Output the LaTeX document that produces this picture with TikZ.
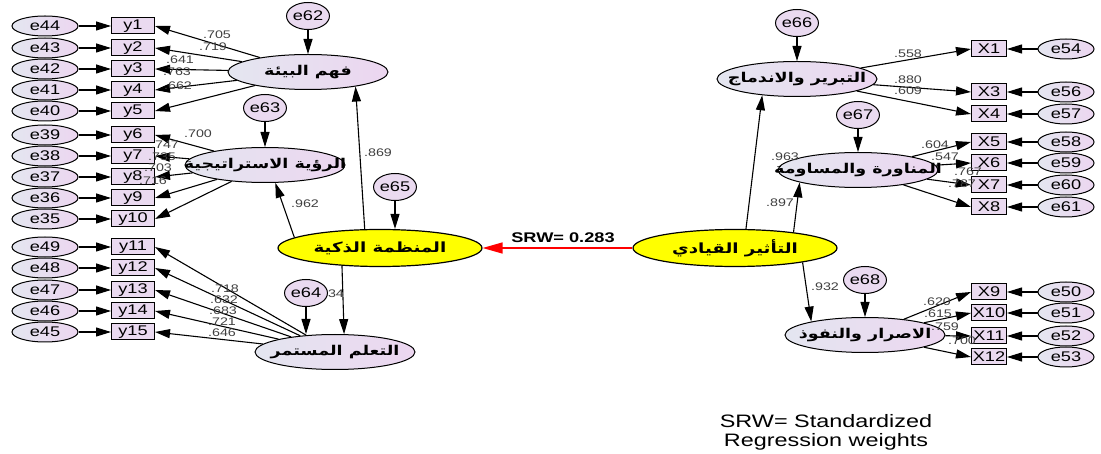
\documentclass[tikz,border=0pt]{standalone}
\usepackage{fontspec}
\setmainfont{Liberation Sans}[FakeStretch=1.3]
\newfontfamily\arabicfont[Script=Arabic,FakeStretch=1.3]{DejaVu Sans}
\TeXXeTstate=1
\usetikzlibrary{shapes.geometric,arrows.meta}
\definecolor{shL}{RGB}{228,230,240}
\definecolor{shR}{RGB}{236,214,240}
\definecolor{boxfill}{RGB}{234,218,240}
\definecolor{ylw}{RGB}{255,255,0}
\newcommand{\artxt}[1]{\makebox[0pt]{\arabicfont\bfseries\beginR #1\endR}}

\begin{document}
\begin{tikzpicture}[x=1pt,y=-1pt,
    err/.style={ellipse,draw,line width=1pt,left color=shL,right color=shR,minimum width=66pt,minimum height=20pt,inner sep=0pt,font=\fontsize{14}{14}\selectfont},
    res/.style={ellipse,draw,line width=1pt,fill=boxfill,minimum width=38pt,minimum height=27pt,inner sep=0pt,font=\fontsize{14}{14}\selectfont},
    ind/.style={rectangle,draw,line width=1pt,fill=boxfill,minimum width=43pt,minimum height=16pt,inner sep=0pt,font=\fontsize{14}{14}\selectfont},
    lat/.style={ellipse,draw,line width=1pt,left color=shL,right color=shR,minimum width=160pt,minimum height=35pt,inner sep=0pt,font=\fontsize{13.5}{13.5}\selectfont},
    yel/.style={ellipse,draw,line width=1.2pt,fill=ylw,minimum width=204pt,minimum height=37pt,inner sep=0pt,font=\fontsize{14}{14}\selectfont},
    lbl/.style={inner sep=0pt,text=black!75,font=\fontsize{11}{11}\selectfont},
    arr/.style={line width=1.1pt,-{Triangle[length=15pt,width=9pt]}},
    redarr/.style={line width=1.3pt,red,-{Triangle[length=20pt,width=11pt]}}]
\path[use as bounding box,fill=white] (0,0) rectangle (1101,454);

% left indicators
\foreach \e/\y/\yy in {44/1/26,43/2/48,42/3/69,41/4/90,40/5/111,39/6/135,38/7/156,37/8/177,36/9/198,35/10/219,49/11/247,48/12/268,47/13/290,46/14/311,45/15/332}{
    \node[err] (e\e) at (45,\yy) {e\e};
    \node[ind] (y\y) at (133,\yy) {y\y};
    \draw[arr] (e\e) -- (y\y);
}
% right indicators
\foreach \e/\x/\yy in {54/1/49,56/3/92,57/4/114,58/5/142,59/6/163,60/7/185,61/8/207,50/9/292,51/10/313,52/11/336,53/12/357}{
    \node[ind,minimum width=35pt] (X\x) at (989,\yy) {X\x};
    \node[err,minimum width=56pt] (e\e) at (1066,\yy) {e\e};
    \draw[arr] (e\e) -- (X\x);
}

% latent variables
\node[lat] (fahm) at (308,72) {\artxt{فهم البيئة}};
\node[lat] (rua) at (265,165) {\artxt{الرؤية الاستراتيجية}};
\node[lat] (taalum) at (335,352) {\artxt{التعلم المستمر}};
\node[yel] (munazama) at (380,248) {\artxt{المنظمة الذكية}};
\node[lat] (tabrir) at (797,79) {\artxt{التبرير والاندماج}};
\node[lat] (manawara) at (858,170) {\artxt{المناورة والمساومة}};
\node[lat] (israr) at (865,335) {\artxt{الاصرار والنفوذ}};
\node[yel] (taathir) at (735,248) {\artxt{التأثير القيادي}};

% loadings
\foreach \y/\l/\lx/\ly in {1/.705/217/35,2/.719/213/47,3/.641/180/60,4/.763/177/72,5/.662/178/86}{
    \draw[arr] (fahm) -- (y\y.east);
    \node[lbl] (l\y) at (\lx,\ly) {\l};
}
\foreach \y/\l/\lx/\ly in {6/.700/198/134,7/.747/165/145,8/.735/162/157,9/.703/158/168,10/.716/153/181}{
    \draw[arr] (rua) -- (y\y.east);
    \node[lbl] (l\y) at (\lx,\ly) {\l};
}
\foreach \y/\l/\lx/\ly in {11/.718/225/289,12/.632/224/300,13/.683/223/311,14/.721/222/322,15/.646/222/333}{
    \draw[arr] (taalum) -- (y\y.east);
    \node[lbl] (l\y) at (\lx,\ly) {\l};
}
\foreach \x/\l/\lx/\ly in {1/.558/908/54,3/.880/908/80,4/.609/908/91}{
    \draw[arr] (tabrir) -- (X\x.west);
    \node[lbl] (m\x) at (\lx,\ly) {\l};
}
\foreach \x/\l/\lx/\ly in {5/.604/935/145,6/.547/945/157,7/.767/968/172,8/.787/962/184}{
    \draw[arr] (manawara) -- (X\x.west);
    \node[lbl] (m\x) at (\lx,\ly) {\l};
}
\foreach \x/\l/\lx/\ly in {9/.620/937/302,10/.615/938/314,11/.759/945/327,12/.700/962/341}{
    \draw[arr] (israr) -- (X\x.west);
    \node[lbl] (m\x) at (\lx,\ly) {\l};
}

% structural paths
\draw[arr] (munazama.129) -- (fahm.-17);
\draw[arr] (munazama.173) -- (rua.-60);
\draw[arr] (munazama.205) -- (taalum.63);
\draw[arr] (taathir.60) -- (tabrir.205);
\draw[arr] (taathir.15) -- (manawara.192);
\draw[arr] (taathir.-12) -- (israr.166);
\draw[redarr] (taathir) -- (munazama);
\node[lbl] (p1) at (378,153) {.869};
\node[lbl] (p2) at (305,204) {.962};
\node[lbl] (p3) at (330,294) {.834};
\node[lbl] (p4) at (785,157) {.963};
\node[lbl] (p5) at (780,203) {.897};
\node[lbl] (p6) at (825,287) {.932};
\node[font=\bfseries\fontsize{14}{14}\selectfont,inner sep=0pt] (srw) at (563,238) {SRW= 0.283};

% residuals
\node[res] (e62) at (308,16) {e62};
\node[res] (e63) at (265,108) {e63};
\node[res] (e64) at (306,293) {e64};
\node[res] (e65) at (395,187) {e65};
\node[res] (e66) at (797,23) {e66};
\node[res] (e67) at (858,115) {e67};
\node[res] (e68) at (865,280) {e68};
\draw[arr] (e62) -- (fahm);
\draw[arr] (e63) -- (rua);
\draw[arr] (e64.south) -- (e64.south |- taalum.north);
\draw[arr] (e65.south) -- (e65.south |- munazama.north);
\draw[arr] (e66) -- (tabrir);
\draw[arr] (e67) -- (manawara);
\draw[arr] (e68) -- (israr);

\node[align=center,font=\fontsize{18}{19}\selectfont] (note) at (826,432) {SRW= Standardized\\Regression weights};
\end{tikzpicture}
\end{document}
